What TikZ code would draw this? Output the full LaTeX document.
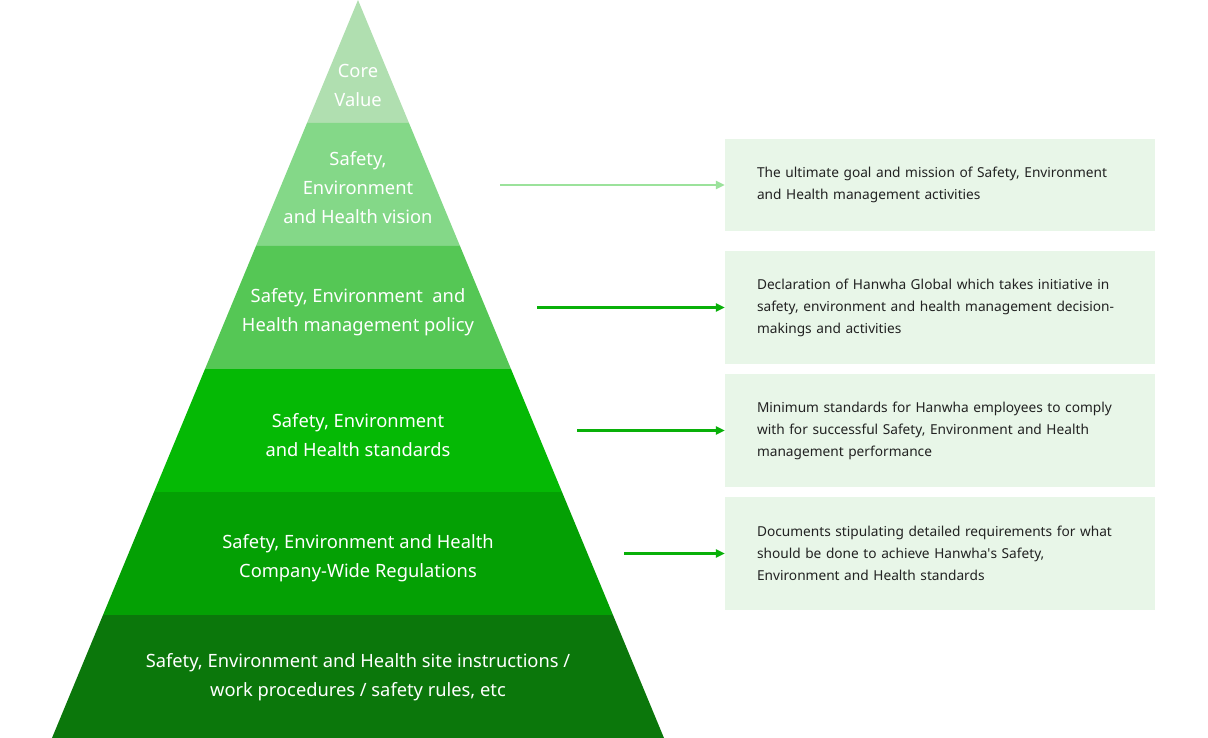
\documentclass[tikz,border=0pt]{standalone}
\usepackage{fontspec}
\setmainfont{Noto Sans}
\usetikzlibrary{arrows.meta}

\definecolor{lvlone}{HTML}{B0DFB0}
\definecolor{lvltwo}{HTML}{84D888}
\definecolor{lvlthree}{HTML}{55C755}
\definecolor{lvlfour}{HTML}{05B905}
\definecolor{lvlfive}{HTML}{04A004}
\definecolor{lvlsix}{HTML}{0B770B}
\definecolor{arrlight}{HTML}{9BE29B}
\definecolor{arrdark}{HTML}{09B009}
\definecolor{boxfill}{HTML}{E8F6E8}
\definecolor{boxtext}{HTML}{222222}

\tikzset{
  lvltext/.style={text=white,align=center,font=\fontsize{18.3}{29}\selectfont},
  descbox/.style={fill=boxfill,text=boxtext,text width=366,inner xsep=32,inner ysep=0,
    minimum height=92,align=left,font=\fontsize{13.7}{22}\selectfont},
  arr/.style={line width=2.2,-{Triangle[length=9,width=8]}}
}

\begin{document}
\begin{tikzpicture}[x=1pt,y=-1pt]
	\useasboundingbox (0,0) rectangle (1208,738);
	% pyramid layers
	\fill[lvlone] (358,0) -- (409,123) -- (307,123) -- cycle;
	\fill[lvltwo] (307,123) -- (409,123) -- (460,246) -- (256,246) -- cycle;
	\fill[lvlthree] (256,246) -- (460,246) -- (511,369) -- (205,369) -- cycle;
	\fill[lvlfour] (205,369) -- (511,369) -- (562,492) -- (154,492) -- cycle;
	\fill[lvlfive] (154,492) -- (562,492) -- (613,615) -- (103,615) -- cycle;
	\fill[lvlsix] (103,615) -- (613,615) -- (664,738) -- (52,738) -- cycle;
	\node[lvltext] (core) at (358,85) {Core\\Value};
	\node[lvltext] (vision) at (358,188) {Safety,\\Environment\\and Health vision};
	\node[lvltext] (policy) at (358,312.5) {Safety, Environment\ \ and\\Health management policy};
	\node[lvltext] (standards) at (358,435.5) {Safety, Environment\\and Health standards};
	\node[lvltext] (regulations) at (358,558.5) {Safety, Environment and Health\\Company-Wide Regulations};
	\node[lvltext] (site) at (358,677.5) {Safety, Environment and Health site instructions /\\work procedures / safety rules, etc};
	% description boxes
	\node[descbox] (goal) at (940,185) {The ultimate goal and mission of Safety, Environment\\and Health management activities};
	\node[descbox,minimum height=113] (declare) at (940,307.5) {Declaration of Hanwha Global which takes initiative in\\safety, environment and health management decision-\\makings and activities};
	\node[descbox,minimum height=113] (minimum) at (940,430.5) {Minimum standards for Hanwha employees to comply\\with for successful Safety, Environment and Health\\management performance};
	\node[descbox,minimum height=113] (docs) at (940,553.5) {Documents stipulating detailed requirements for what\\should be done to achieve Hanwha\textquotesingle s Safety,\\Environment and Health standards};
	% arrows
	\coordinate (a1) at (500,185);
	\coordinate (a2) at (537,307.5);
	\coordinate (a3) at (577,430.5);
	\coordinate (a4) at (624,553.5);
	\draw[arr,arrlight] (a1) -- (goal.west);
	\draw[arr,arrdark] (a2) -- (declare.west);
	\draw[arr,arrdark] (a3) -- (minimum.west);
	\draw[arr,arrdark] (a4) -- (docs.west);
\end{tikzpicture}
\end{document}
